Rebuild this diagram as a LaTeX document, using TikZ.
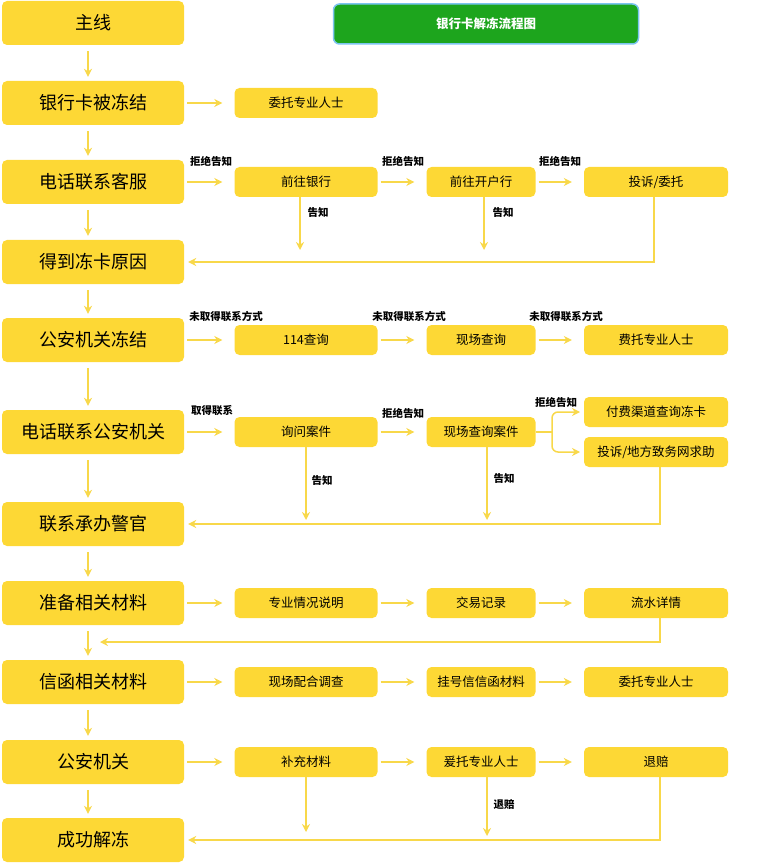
\documentclass[tikz,border=0pt]{standalone}
\usepackage{fontspec}
\setmainfont{Noto Sans CJK SC}
\usetikzlibrary{arrows.meta}
\definecolor{boxyellow}{HTML}{FDD835}
\definecolor{lineyellow}{HTML}{F8D84A}
\definecolor{titlegreen}{HTML}{1DA51D}
\definecolor{titleblue}{HTML}{7CC4F0}
\tikzset{
  mainbox/.style={fill=boxyellow,rounded corners=5pt,minimum width=182pt,minimum height=44pt,font=\fontsize{18}{18}\selectfont},
  subbox/.style={fill=boxyellow,rounded corners=5pt,minimum height=30pt,font=\fontsize{12.5}{13}\selectfont},
  flow/.style={draw=lineyellow,line width=1.5pt,-{Stealth[length=8pt,width=8pt]}},
  tag/.style={font=\bfseries\fontsize{10.5}{11}\selectfont}
}
\begin{document}
\begin{tikzpicture}[x=1pt,y=-1pt]
\useasboundingbox (0,0) rectangle (777,866);
% title
\node[fill=titlegreen,draw=titleblue,line width=1.5pt,rounded corners=6pt,minimum width=305pt,minimum height=40pt,text=white,font=\bfseries\fontsize{12.5}{13}\selectfont] (title) at (486,24) {银行卡解冻流程图};
% main column
\foreach \n/\y/\t in {m1/23/主线,m2/103/银行卡被冻结,m3/182/电话联系客服,m4/262/得到冻卡原因,m5/340/公安机关冻结,m6/432/电话联系公安机关,m7/524/联系承办警官,m8/603/准备相关材料,m9/682/信函相关材料,m10/762/公安机关,m11/840/成功解冻}
  \node[mainbox] (\n) at (93,\y) {\t};
\foreach \a/\b in {m1/m2,m2/m3,m3/m4,m4/m5,m5/m6,m6/m7,m7/m8,m8/m9,m9/m10,m10/m11}
  \draw[flow,shorten >=4pt,shorten <=6pt] (\a.south -| 88,0) -- (\b.north -| 88,0);
% side boxes
\node[subbox,minimum width=143pt] (b2) at (306,103) {委托专业人士};
\node[subbox,minimum width=143pt] (c2) at (306,182) {前往银行};
\node[subbox,minimum width=109pt] (c3) at (481,182) {前往开户行};
\node[subbox,minimum width=144pt] (c4) at (656,182) {投诉/委托};
\node[subbox,minimum width=143pt] (e2) at (306,340) {114查询};
\node[subbox,minimum width=109pt] (e3) at (481,340) {现场查询};
\node[subbox,minimum width=144pt] (e4) at (656,340) {费托专业人士};
\node[subbox,minimum width=143pt] (f2) at (306,432) {询问案件};
\node[subbox,minimum width=109pt] (f3) at (481,432) {现场查询案件};
\node[subbox,minimum width=144pt] (f4) at (656,412) {付费渠道查询冻卡};
\node[subbox,minimum width=144pt] (f5) at (656,452) {投诉/地方致务网求助};
\node[subbox,minimum width=143pt] (h2) at (306,603) {专业情况说明};
\node[subbox,minimum width=109pt] (h3) at (481,603) {交易记录};
\node[subbox,minimum width=144pt] (h4) at (656,603) {流水详情};
\node[subbox,minimum width=143pt] (i2) at (306,682) {现场配合调查};
\node[subbox,minimum width=109pt] (i3) at (481,682) {挂号信信函材料};
\node[subbox,minimum width=144pt] (i4) at (656,682) {委托专业人士};
\node[subbox,minimum width=143pt] (j2) at (306,762) {补充材料};
\node[subbox,minimum width=109pt] (j3) at (481,762) {爰托专业人士};
\node[subbox,minimum width=144pt] (j4) at (656,762) {退赔};
% horizontal arrows
\foreach \a/\b in {m2/b2,m3/c2,c2/c3,c3/c4,m5/e2,e2/e3,e3/e4,m6/f2,f2/f3,m8/h2,h2/h3,h3/h4,m9/i2,i2/i3,i3/i4,m10/j2,j2/j3,j3/j4}
  \draw[flow,shorten >=12pt,shorten <=3pt] (\a.east) -- (\b.west);
% split
\coordinate (sp) at (552,432);
\draw[draw=lineyellow,line width=1.5pt] (f3.east) -- (sp);
\draw[flow,rounded corners=6pt] (sp) |- (580,412);
\draw[flow,rounded corners=6pt] (sp) |- (580,452);
% arrow labels
\foreach \x/\y/\t in {211/161/拒绝告知,403/161/拒绝告知,560/161/拒绝告知,
  226/316/未取得联系方式,409/316/未取得联系方式,566/316/未取得联系方式,
  212/411/取得联系,403/413/拒绝告知,556/402/拒绝告知,
  318/213/告知,503/213/告知,322/481/告知,504/479/告知,504/805/退赔}
  \node[tag] at (\x,\y) {\t};
% down arrows and return lines
\draw[flow] (c2.south -| 300,0) -- (300,250);
\draw[flow] (c3.south -| 484,0) -- (484,250);
\draw[flow,shorten >=4pt] (c4.south -| 654,0) |- (m4.east);
\draw[flow] (f2.south -| 306,0) -- (306,520);
\draw[flow] (f3.south -| 487,0) -- (487,520);
\draw[flow,shorten >=4pt] (f5.south -| 660,0) |- (m7.east);
\draw[flow] (h4.south -| 660,0) |- (100,642);
\draw[flow] (j2.south -| 306,0) -- (306,832);
\draw[flow] (j3.south -| 487,0) -- (487,836);
\draw[flow,shorten >=4pt] (j4.south -| 660,0) |- (m11.east);
\end{tikzpicture}
\end{document}
